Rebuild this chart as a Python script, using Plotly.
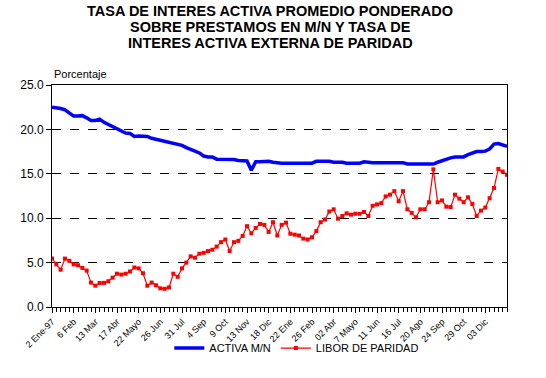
import plotly.graph_objects as go

week_labels = ["2 Ene-97", "6 Feb", "13 Mar", "17 Abr", "22 Mayo", "26 Jun", "31 Jul",
               "4 Sep", "9 Oct", "13 Nov", "18 Dic", "22 Ene", "26 Feb", "02 Abr",
               "7 Mayo", "11 Jun", "16 Jul", "20 Ago", "24 Sep", "29 Oct", "03 Dic"]

title_lines = ["TASA DE INTERES ACTIVA PROMEDIO PONDERADO",
               "SOBRE PRESTAMOS EN M/N Y TASA DE",
               "INTERES ACTIVA EXTERNA DE PARIDAD"]

activa_mn = [22.5, 22.45, 22.35, 22.2, 21.9, 21.5, 21.5, 21.55, 21.3, 21.0,
             21.0, 21.15, 20.8, 20.55, 20.35, 20.1, 19.8, 19.6, 19.55, 19.2,
             19.25, 19.25, 19.2, 19.0, 18.9, 18.75, 18.65, 18.6, 18.45, 18.35,
             18.2, 17.95, 17.8, 17.55, 17.35, 17.0, 16.9, 16.9, 16.65, 16.65,
             16.65, 16.6, 16.6, 16.5, 16.5, 16.45, 15.4, 16.35, 16.35, 16.35,
             16.4, 16.3, 16.2, 16.2, 16.2, 16.2, 16.2, 16.2, 16.2, 16.2,
             16.2, 16.4, 16.4, 16.4, 16.4, 16.3, 16.3, 16.3, 16.2, 16.2,
             16.2, 16.2, 16.35, 16.25, 16.25, 16.25, 16.25, 16.25, 16.25, 16.25,
             16.25, 16.25, 16.1, 16.1, 16.1, 16.1, 16.1, 16.1, 16.1, 16.3,
             16.5, 16.7, 16.8, 16.9, 16.9, 16.9, 17.15, 17.3, 17.5, 17.5,
             17.55, 17.8, 18.35, 18.4, 18.3, 18.1]

libor_paridad = [5.45, 4.8, 4.2, 5.45, 5.2, 4.8, 4.7, 4.4, 4.1, 2.75,
                 2.4, 2.7, 2.72, 2.9, 3.3, 3.75, 3.65, 3.75, 4.0, 4.45,
                 4.35, 3.8, 2.4, 2.75, 2.45, 2.1, 2.05, 2.2, 3.75, 3.4,
                 4.35, 5.0, 5.7, 5.55, 6.0, 6.1, 6.3, 6.45, 6.8, 7.3,
                 7.6, 6.3, 7.3, 7.45, 8.0, 9.1, 8.3, 8.9, 9.35, 9.25,
                 8.45, 9.55, 8.05, 9.25, 9.5, 8.25, 8.15, 8.05, 7.7, 7.6,
                 7.85, 8.55, 9.55, 9.85, 10.75, 11.0, 9.95, 10.25, 10.55, 10.4,
                 10.5, 10.5, 10.7, 10.25, 11.4, 11.55, 11.7, 12.45, 12.65, 13.05,
                 11.9, 13.05, 11.0, 10.6, 10.1, 11.0, 11.0, 11.8, 15.5, 11.8,
                 12.0, 11.3, 11.25, 12.65, 12.2, 11.8, 12.35, 11.6, 10.25, 10.85,
                 11.2, 12.25, 13.4, 15.55, 15.25, 14.9]

weeks = list(range(len(activa_mn)))
tick_pos = weeks[::5][:len(week_labels)]

font_family = "Liberation Sans, Arial, sans-serif"

fig = go.Figure()
fig.add_trace(go.Scatter(
    x=weeks, y=activa_mn, name="ACTIVA M/N", mode="lines",
    line=dict(color="#0000FF", width=3.5),
))
fig.add_trace(go.Scatter(
    x=weeks, y=libor_paridad, name="LIBOR DE PARIDAD", mode="lines+markers",
    line=dict(color="#FF0000", width=1.2),
    marker=dict(color="#FF0000", symbol="square", size=4),
))

title_y = [1.333, 1.261, 1.189]
annotations = [dict(text="<b>%s</b>" % t, xref="paper", yref="paper", x=0.48, y=yy,
                    xanchor="center", yanchor="middle", showarrow=False,
                    font=dict(size=14.5, family=font_family, color="black"))
               for t, yy in zip(title_lines, title_y)]
annotations.append(dict(text="Porcentaje", xref="paper", yref="paper", x=0, y=1.015,
                        xanchor="left", yanchor="bottom", showarrow=False,
                        font=dict(size=11, family=font_family)))

fig.update_layout(
    width=546, height=378,
    margin=dict(l=52, r=39, t=85, b=71),
    paper_bgcolor="white", plot_bgcolor="white",
    font=dict(family=font_family, color="black"),
    showlegend=True,
    legend=dict(orientation="h", x=0.538, xanchor="center", y=-0.185, yanchor="middle",
                font=dict(size=11, family=font_family), itemwidth=30,
                bgcolor="rgba(0,0,0,0)"),
    annotations=annotations,
)

fig.update_xaxes(
    range=[0, len(weeks) - 1], tickmode="array", tickvals=tick_pos, ticktext=week_labels,
    tickangle=-45, tickfont=dict(size=9, family=font_family),
    showline=True, linecolor="black", linewidth=1, mirror=True,
    ticks="outside", ticklen=5, tickcolor="black",
    minor=dict(dtick=1, tick0=0, ticks="outside", ticklen=4, tickcolor="black"),
    showgrid=False, zeroline=False,
)
fig.update_yaxes(
    range=[0, 25], dtick=5, tickformat=".1f", tickfont=dict(size=12, family=font_family),
    showline=True, linecolor="black", linewidth=1, mirror=True,
    ticks="outside", ticklen=5, tickcolor="black",
    showgrid=True, gridcolor="black", gridwidth=1, griddash="dash",
    zeroline=False,
)

fig.write_html("out.html", config={"displayModeBar": False},
               post_script="document.body.style.margin='0';document.body.style.overflow='hidden';")
